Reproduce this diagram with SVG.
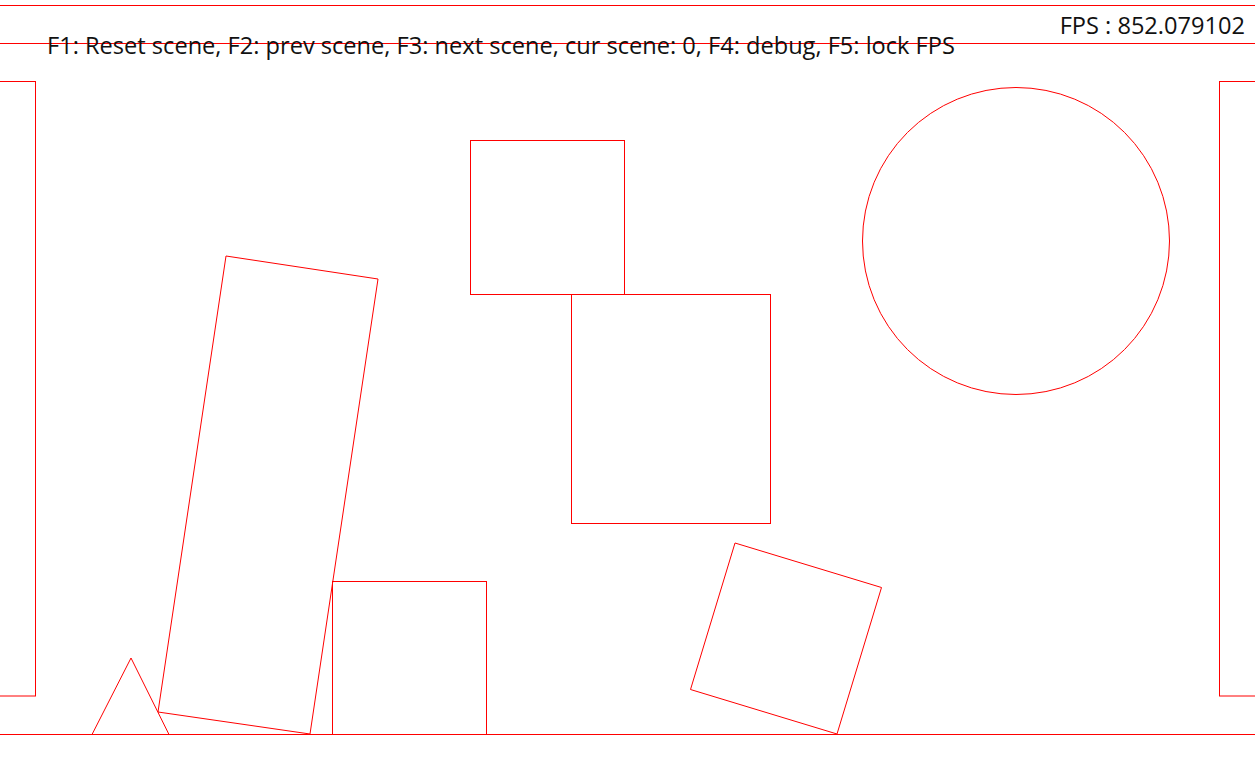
<svg xmlns="http://www.w3.org/2000/svg" width="1255" height="763" viewBox="0 0 1255 763">
<style>
.s{fill:none;stroke:#ff0000;stroke-width:1}
.t{font-family:"Open Sans","Noto Sans",sans-serif;font-size:23.6px;fill:#111}
</style>
<rect width="1255" height="763" fill="#fff"/>
<g id="hud-lines">
<line class="s" x1="0" y1="5.5" x2="1255" y2="5.5"/>
<line class="s" x1="0" y1="43.5" x2="1255" y2="43.5"/>
</g>
<g id="walls">
<rect class="s" x="-10" y="81.5" width="45.5" height="614.5"/>
<rect class="s" x="1219.5" y="81.5" width="50" height="614.5"/>
<line class="s" x1="0" y1="734.5" x2="1255" y2="734.5"/>
</g>
<g id="triangle"><polygon class="s" points="131,658 92,734.5 169,734.5"/></g>
<g id="tilted-rect"><polygon class="s" points="226,256 378,279 310,734 158,712"/></g>
<g id="square-bottom"><rect class="s" x="332.5" y="581.5" width="154" height="153"/></g>
<g id="square-top"><rect class="s" x="470.5" y="140.5" width="154" height="154"/></g>
<g id="big-rect"><rect class="s" x="571.5" y="294.5" width="199" height="229"/></g>
<g id="circle"><circle class="s" cx="1016" cy="241" r="153.5"/></g>
<g id="tilted-square"><polygon class="s" points="735,543 881.5,587.5 837,734 690.5,689.5"/></g>
<g id="labels">
<text class="t" x="47" y="54">F1: Reset scene, F2: prev scene, F3: next scene, cur scene: 0, F4: debug, F5: lock FPS</text>
<text class="t" x="1245" y="34" text-anchor="end">FPS : 852.079102</text>
</g>
</svg>
